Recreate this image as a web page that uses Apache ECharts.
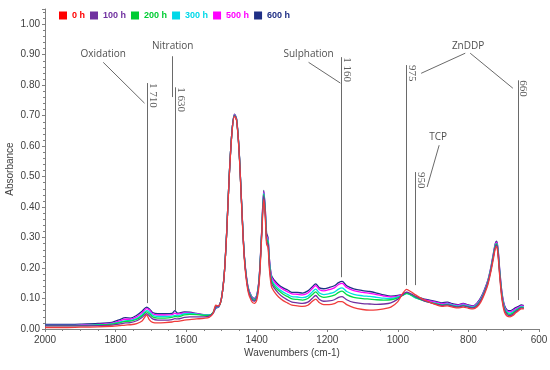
<!DOCTYPE html>
<html><head><meta charset="utf-8">
<script src="https://cdn.jsdelivr.net/npm/echarts@6/dist/echarts.min.js"></script>
<style>html,body{margin:0;padding:0;background:#fff}#c{width:550px;height:370px}</style>
</head><body><div id="c"></div>
<script>
const wavenumbers = [2000,1950,1900,1850,1810,1790,1772,1758,1740,1725,1712,1704,1695,1680,1660,1640,1632,1624,1605,1590,1570,1550,1535,1524,1516,1508,1500,1492,1485,1478,1470,1463,1457,1450,1443,1435,1425,1415,1407,1400,1393,1386,1380,1376,1372,1368,1364,1358,1350,1338,1325,1312,1300,1285,1270,1255,1243,1233,1222,1210,1195,1180,1168,1158,1145,1125,1100,1080,1060,1040,1020,1000,987,975,963,950,930,910,890,875,860,845,830,815,800,787,775,765,755,745,736,729,724,720,716,711,705,698,690,682,674,666,658,650,643];

const h600 = [.015,.015,.016,.018,.022,.030,.037,.036,.045,.058,.072,.066,.054,.050,.050,.051,.060,.052,.056,.055,.051,.047,.046,.052,.068,.072,.100,.180,.320,.500,.650,.705,.690,.590,.420,.240,.140,.108,.100,.110,.170,.320,.455,.400,.315,.300,.230,.175,.160,.145,.135,.128,.120,.120,.118,.125,.138,.148,.135,.132,.136,.142,.152,.156,.142,.132,.126,.123,.118,.112,.108,.110,.114,.118,.113,.106,.100,.095,.090,.086,.088,.083,.080,.084,.079,.076,.086,.103,.128,.160,.205,.250,.280,.288,.262,.190,.120,.078,.062,.060,.064,.070,.074,.079,.077];
const h500 = [.012,.012,.013,.015,.019,.026,.032,.032,.040,.053,.067,.062,.050,.046,.046,.047,.052,.049,.053,.053,.050,.047,.046,.053,.070,.073,.100,.180,.320,.500,.650,.703,.688,.588,.418,.238,.138,.106,.098,.108,.168,.318,.450,.396,.305,.295,.225,.170,.155,.140,.130,.122,.115,.114,.112,.118,.132,.142,.129,.125,.129,.135,.146,.150,.136,.126,.120,.117,.113,.108,.105,.108,.114,.120,.112,.103,.097,.092,.087,.083,.085,.080,.078,.082,.077,.074,.084,.100,.125,.157,.202,.246,.276,.285,.258,.186,.116,.074,.058,.056,.060,.067,.071,.076,.075];
const h300 = [.012,.012,.012,.014,.017,.022,.027,.028,.035,.047,.060,.056,.045,.041,.041,.042,.045,.044,.050,.051,.049,.046,.046,.053,.070,.073,.100,.180,.320,.500,.650,.702,.687,.587,.417,.237,.136,.104,.096,.106,.166,.315,.446,.392,.300,.290,.220,.163,.147,.132,.121,.113,.106,.105,.103,.108,.121,.131,.118,.113,.116,.121,.131,.135,.123,.114,.109,.107,.104,.101,.100,.105,.110,.116,.111,.102,.095,.089,.084,.080,.082,.078,.075,.079,.075,.072,.081,.097,.122,.154,.199,.243,.273,.281,.254,.182,.112,.070,.055,.052,.056,.063,.068,.073,.072];
const h200 = [.011,.011,.011,.013,.016,.020,.025,.026,.032,.043,.056,.050,.040,.036,.036,.038,.041,.040,.046,.048,.047,.045,.045,.054,.074,.075,.100,.180,.320,.500,.650,.701,.686,.586,.416,.236,.134,.102,.094,.104,.164,.312,.442,.388,.295,.285,.214,.157,.141,.126,.114,.106,.099,.097,.095,.100,.112,.122,.109,.104,.106,.111,.120,.124,.113,.104,.100,.098,.096,.095,.096,.102,.110,.117,.112,.104,.094,.087,.082,.078,.080,.076,.073,.077,.073,.070,.079,.095,.120,.152,.197,.241,.271,.279,.250,.178,.108,.066,.051,.048,.052,.060,.066,.071,.070];
const h100 = [.010,.010,.010,.011,.013,.016,.020,.021,.027,.038,.050,.043,.033,.029,.029,.031,.034,.033,.038,.040,.040,.040,.042,.052,.072,.074,.100,.180,.320,.500,.650,.700,.685,.585,.415,.235,.132,.099,.091,.101,.161,.308,.437,.383,.288,.278,.207,.150,.134,.117,.104,.095,.088,.086,.084,.088,.100,.110,.097,.091,.092,.096,.104,.106,.096,.087,.083,.082,.081,.082,.086,.098,.112,.121,.115,.107,.095,.087,.081,.077,.079,.075,.072,.076,.072,.069,.077,.093,.118,.150,.195,.238,.268,.276,.247,.175,.104,.062,.047,.044,.048,.057,.063,.069,.068];
const h0 = [.005,.005,.006,.007,.009,.011,.013,.014,.018,.026,.046,.030,.022,.020,.021,.023,.025,.025,.029,.031,.033,.035,.038,.050,.078,.076,.100,.178,.315,.495,.645,.698,.684,.582,.410,.228,.125,.092,.084,.094,.152,.300,.425,.372,.278,.268,.196,.138,.122,.105,.093,.085,.078,.076,.074,.078,.090,.098,.086,.080,.080,.083,.090,.090,.080,.070,.064,.062,.063,.066,.072,.090,.115,.130,.122,.112,.098,.088,.079,.074,.076,.072,.069,.072,.068,.066,.073,.088,.113,.145,.190,.232,.262,.270,.240,.168,.098,.056,.042,.040,.044,.053,.060,.066,.066];

const seriesNames = ['0 h','100 h','200 h','300 h','500 h','600 h'];
const seriesColors = ['#f03c3c','#7030a0','#00dd44','#00e0e0','#ff00ff','#1f2f85'];
const legendColors = ['#ff0000','#7030a0','#00cc33','#00d8e8','#ff00ff','#1f2f85'];
const seriesValues = [h0,h100,h200,h300,h500,h600];

const xTicks = [2000,1800,1600,1400,1200,1000,800,600];
const yTicks = [0,0.1,0.2,0.3,0.4,0.5,0.6,0.7,0.8,0.9,1.0];

// band marker lines: [wavenumber, bottom absorbance, top absorbance, text]
const bandLines = [
  [1710, 0.085, 0.807, '1 710'],
  [1630, 0.062, 0.793, '1 630'],
  [1160, 0.170, 0.892, '1 160'],
  [975, 0.144, 0.866, '975'],
  [950, 0.144, 0.515, '950'],
  [660, 0.095, 0.816, '660']
];
// leader lines: [x1, y1, x2, y2]
const leaderLines = [
  [1835, 0.875, 1718, 0.741],
  [1638, 0.895, 1638, 0.761],
  [1253, 0.875, 1163, 0.807],
  [809, 0.905, 934, 0.839],
  [795, 0.905, 674, 0.790],
  [883, 0.603, 917, 0.466]
];
// group labels: [x, y, text]
const groupLabels = [
  [1835, 0.902, 'Oxidation'],
  [1638, 0.928, 'Nitration'],
  [1253, 0.902, 'Sulphation'],
  [801, 0.928, 'ZnDDP'],
  [886, 0.630, 'TCP']
];

const chart = echarts.init(document.getElementById('c'), null, {renderer:'canvas'});
const axisColor = '#7f7f7f';
const labelColor = '#404040';

const lineSeries = [];
for (let i = seriesNames.length - 1; i >= 0; i--) {
  lineSeries.push({
    name: seriesNames[i],
    type: 'line',
    data: wavenumbers.map((w, k) => [w, seriesValues[i][k]]),
    showSymbol: false,
    symbol: 'none',
    smooth: 0.3,
    lineStyle: {color: seriesColors[i], width: 1.3},
    itemStyle: {color: legendColors[i]},
    animation: false,
    z: 3
  });
}

const linesData = [];
bandLines.forEach(b => linesData.push({coords: [[b[0], b[1]], [b[0], b[2]]]}));
leaderLines.forEach(l => linesData.push({coords: [[l[0], l[1]], [l[2], l[3]]]}));

const annoSeries = {
  type: 'lines',
  coordinateSystem: 'cartesian2d',
  data: linesData,
  lineStyle: {color: '#6a6a6a', width: 1, opacity: 1, curveness: 0},
  symbol: 'none',
  silent: true,
  animation: false,
  z: 4
};

const textData = [];
bandLines.forEach(b => textData.push({
  value: [b[0], b[2]],
  name: b[3],
  label: {show: true, position: 'inside', formatter: b[3], rotate: -90, align: 'left', verticalAlign: 'bottom',
    fontFamily: 'Liberation Serif', fontSize: 11, color: '#333'}
}));
groupLabels.forEach(g => textData.push({
  value: [g[0], g[1]],
  name: g[2],
  label: {show: true, position: 'inside', formatter: g[2], align: 'center', verticalAlign: 'middle',
    fontFamily: 'Open Sans', fontSize: 10, color: '#222'}
}));

const textSeries = {
  type: 'scatter',
  data: textData,
  symbolSize: 0.1,
  itemStyle: {color: 'rgba(0,0,0,0)'},
  silent: true,
  animation: false,
  z: 5
};

chart.setOption({
  backgroundColor: '#ffffff',
  animation: false,
  legend: {
    left: 54, top: 6,
    icon: 'rect', itemWidth: 8, itemHeight: 8, itemGap: 5,
    textStyle: {fontSize: 9, fontWeight: 'bold', fontFamily: 'Liberation Sans'},
    data: seriesNames.map((n, i) => ({name: n, textStyle: {color: legendColors[i]}}))
  },
  grid: {left: 45, right: 11, top: 9, bottom: 41, containLabel: false, outerBoundsMode: 'none'},
  xAxis: {
    type: 'value', inverse: true, min: 600, max: 2000, interval: 200,
    name: 'Wavenumbers (cm-1)', nameLocation: 'middle', nameGap: 19, nameMoveOverlap: false,
    nameTextStyle: {fontSize: 10, color: labelColor, fontFamily: 'Liberation Sans'},
    axisLine: {show: true, lineStyle: {color: axisColor}},
    axisTick: {show: true, length: 3, lineStyle: {color: axisColor}},
    minorTick: {show: true, splitNumber: 4, length: 2, lineStyle: {color: axisColor}},
    axisLabel: {fontSize: 10, color: labelColor, fontFamily: 'Liberation Sans', margin: 6,
      formatter: v => String(v)},
    splitLine: {show: false}
  },
  yAxis: {
    type: 'value', min: 0, max: 1.05, interval: 0.1,
    name: 'Absorbance', nameLocation: 'middle', nameGap: 30, nameMoveOverlap: false,
    nameTextStyle: {fontSize: 10, color: labelColor, fontFamily: 'Liberation Sans'},
    axisLine: {show: true, lineStyle: {color: axisColor}},
    axisTick: {show: true, length: 3, lineStyle: {color: axisColor}},
    minorTick: {show: true, splitNumber: 5, length: 2, lineStyle: {color: axisColor}},
    axisLabel: {fontSize: 10, color: labelColor, fontFamily: 'Liberation Sans', margin: 5,
      showMaxLabel: false, formatter: v => v.toFixed(2)},
    splitLine: {show: false}
  },
  series: [...lineSeries, annoSeries, textSeries]
});
</script>
</body></html>
